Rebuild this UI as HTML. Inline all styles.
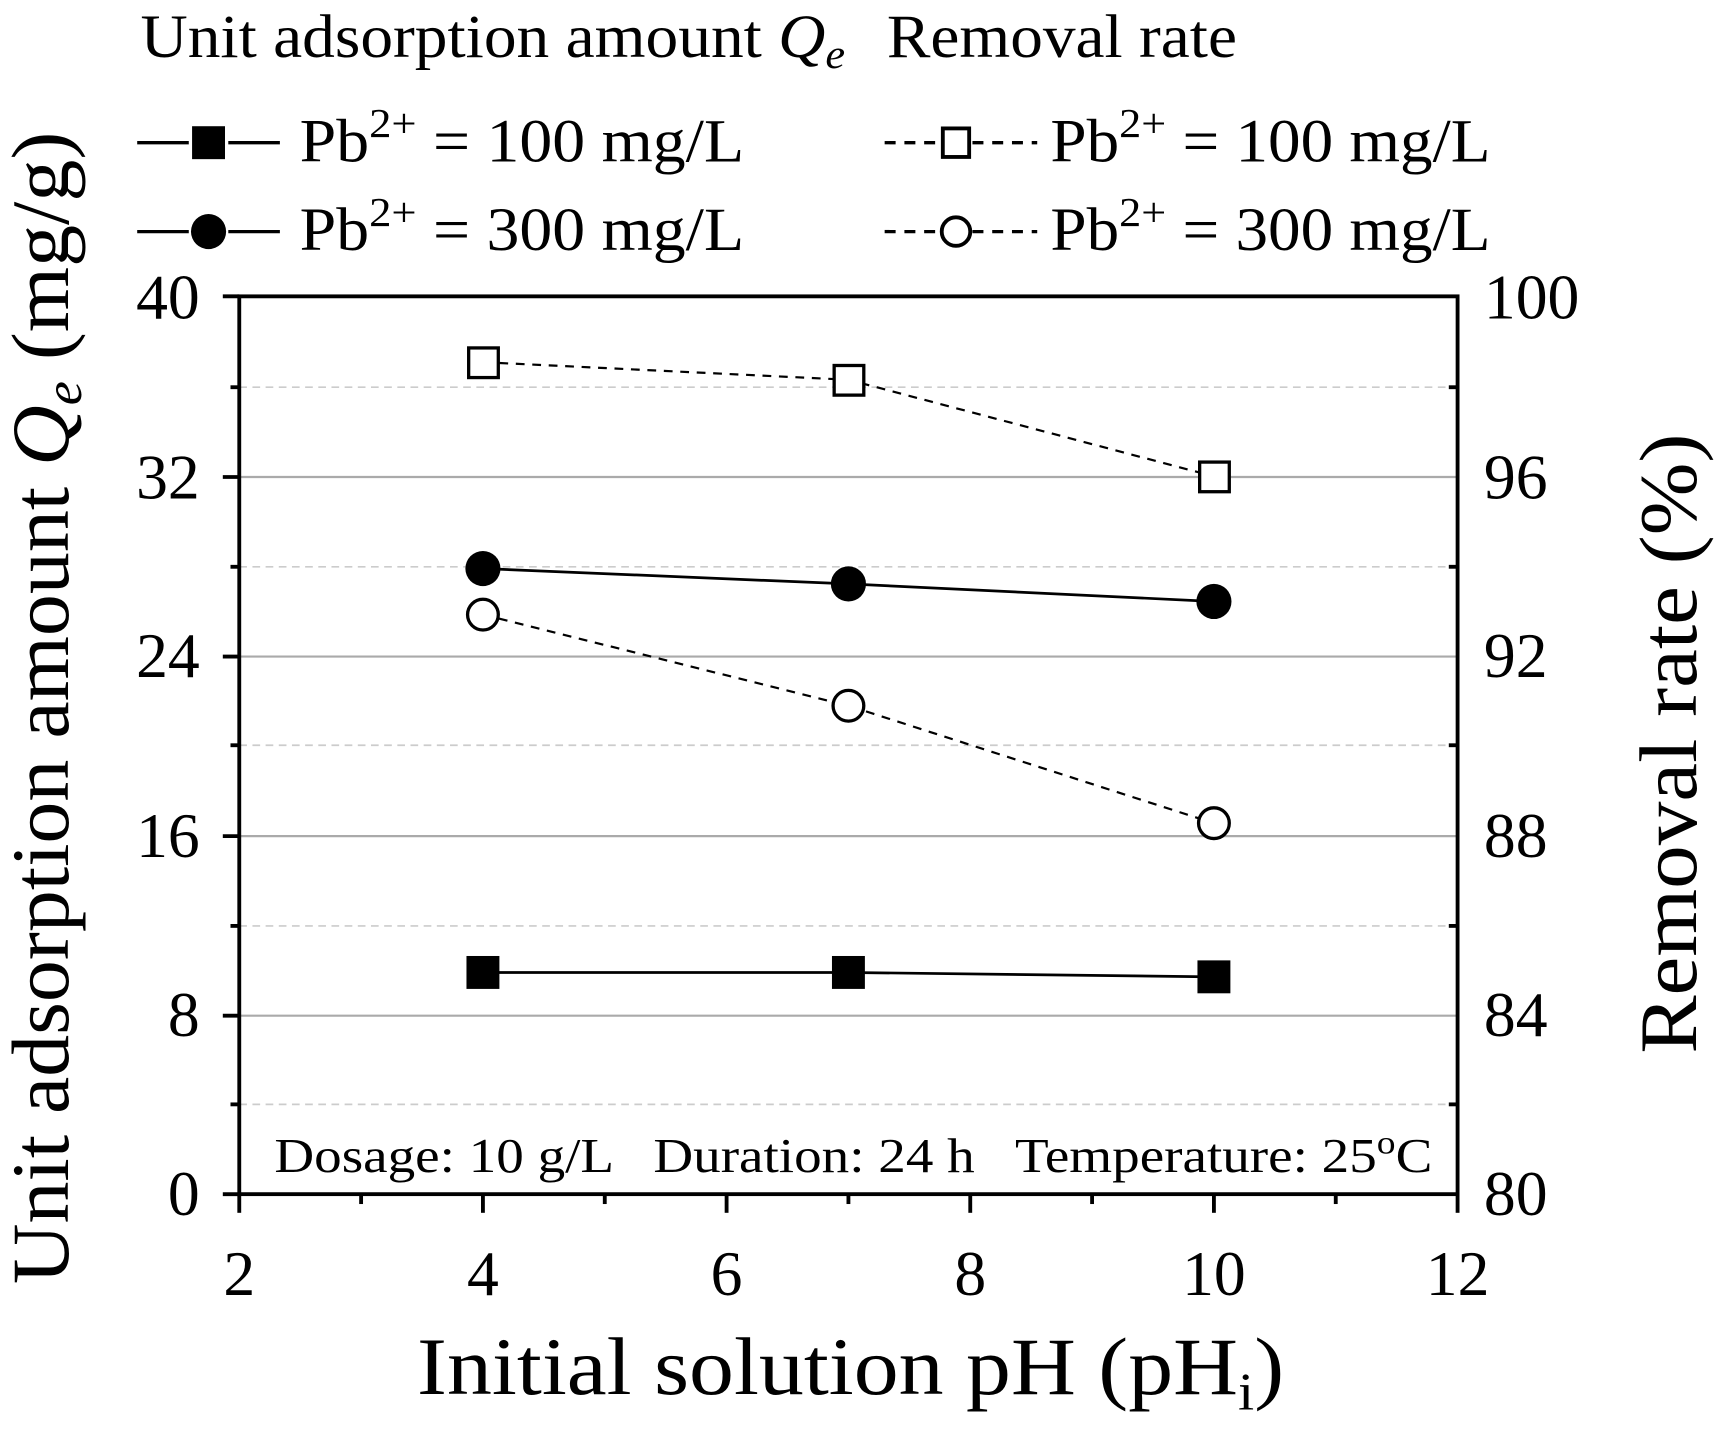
<!DOCTYPE html>
<html><head><style>
html,body{margin:0;padding:0;background:#fff;}
svg{display:block;}
text{font-family:"Liberation Serif",serif;fill:#000;}
</style></head><body>
<svg width="1721" height="1432" viewBox="0 0 1568 1304.7" preserveAspectRatio="none" xmlns="http://www.w3.org/2000/svg">
<!-- grid -->
<g stroke="#aaa" stroke-width="2">
<line x1="218" y1="925.4" x2="1328" y2="925.4"/>
<line x1="218" y1="761.8" x2="1328" y2="761.8"/>
<line x1="218" y1="598.2" x2="1328" y2="598.2"/>
<line x1="218" y1="434.6" x2="1328" y2="434.6"/>
</g>
<g stroke="#ccc" stroke-width="1.5" stroke-dasharray="7,5">
<line x1="218" y1="1006.2" x2="1328" y2="1006.2"/>
<line x1="218" y1="843.6" x2="1328" y2="843.6"/>
<line x1="218" y1="679" x2="1328" y2="679"/>
<line x1="218" y1="516.4" x2="1328" y2="516.4"/>
<line x1="218" y1="352.8" x2="1328" y2="352.8"/>
</g>
<!-- axes -->
<g stroke="#000" stroke-width="3.5" fill="none">
<rect x="218" y="270" width="1110" height="818"/>
<line x1="203" y1="270" x2="218" y2="270"/>
<line x1="203" y1="434.6" x2="218" y2="434.6"/>
<line x1="203" y1="598.2" x2="218" y2="598.2"/>
<line x1="203" y1="761.8" x2="218" y2="761.8"/>
<line x1="203" y1="925.4" x2="218" y2="925.4"/>
<line x1="203" y1="1088" x2="218" y2="1088"/>
<line x1="210" y1="352.8" x2="218" y2="352.8"/>
<line x1="210" y1="516.4" x2="218" y2="516.4"/>
<line x1="210" y1="679" x2="218" y2="679"/>
<line x1="210" y1="843.6" x2="218" y2="843.6"/>
<line x1="210" y1="1006.2" x2="218" y2="1006.2"/>
<line x1="1320" y1="352.8" x2="1328" y2="352.8"/>
<line x1="1320" y1="516.4" x2="1328" y2="516.4"/>
<line x1="1320" y1="679" x2="1328" y2="679"/>
<line x1="1320" y1="843.6" x2="1328" y2="843.6"/>
<line x1="1320" y1="1006.2" x2="1328" y2="1006.2"/>
<line x1="218" y1="1088" x2="218" y2="1105"/>
<line x1="440" y1="1088" x2="440" y2="1105"/>
<line x1="662" y1="1088" x2="662" y2="1105"/>
<line x1="884" y1="1088" x2="884" y2="1105"/>
<line x1="1106" y1="1088" x2="1106" y2="1105"/>
<line x1="1328" y1="1088" x2="1328" y2="1105"/>
<line x1="329" y1="1088" x2="329" y2="1097"/>
<line x1="551" y1="1088" x2="551" y2="1097"/>
<line x1="773" y1="1088" x2="773" y2="1097"/>
<line x1="995" y1="1088" x2="995" y2="1097"/>
<line x1="1217" y1="1088" x2="1217" y2="1097"/>
</g>
<!-- tick labels -->
<g font-size="58" text-anchor="end">
<text x="182" y="290">40</text><text x="182" y="454">32</text><text x="182" y="617">24</text>
<text x="182" y="781">16</text><text x="182" y="944">8</text><text x="182" y="1107">0</text>
</g>
<g font-size="58" text-anchor="start">
<text x="1352" y="290">100</text><text x="1352" y="454">96</text><text x="1352" y="617">92</text>
<text x="1352" y="781">88</text><text x="1352" y="944">84</text><text x="1352" y="1107">80</text>
</g>
<g font-size="58" text-anchor="middle">
<text x="218" y="1180">2</text><text x="440" y="1180">4</text><text x="662" y="1180">6</text>
<text x="884" y="1180">8</text><text x="1106" y="1180">10</text><text x="1328" y="1180">12</text>
</g>
<!-- titles -->
<text x="380" y="1270" font-size="74" textLength="790" lengthAdjust="spacingAndGlyphs">Initial solution  pH (pH<tspan font-size="48" dy="14">i</tspan><tspan dy="-14">)</tspan></text>
<text transform="translate(62,1170) rotate(-90)" font-size="74" textLength="1050" lengthAdjust="spacingAndGlyphs">Unit adsorption amount <tspan font-style="italic">Q<tspan font-size="48" dy="12">e</tspan></tspan><tspan dy="-12"> (mg/g)</tspan></text>
<text transform="translate(1545,960) rotate(-90)" font-size="74" textLength="565" lengthAdjust="spacingAndGlyphs">Removal rate (%)</text>
<!-- annotation -->
<text x="250" y="1068" font-size="44" xml:space="preserve" textLength="1055" lengthAdjust="spacingAndGlyphs">Dosage: 10 g/L   Duration: 24 h   Temperature: 25<tspan font-size="30" dy="-17">o</tspan><tspan dy="17">C</tspan></text>
<!-- series -->
<g stroke="#000" stroke-width="2.5" fill="none">
<polyline points="440,886 773,886 1106,890"/>
<polyline points="440,518 773,532 1106,548"/>
<polyline points="440,330 773,346 1106,434" stroke-dasharray="8,7" stroke-width="2"/>
<polyline points="440,560 773,643 1106,750" stroke-dasharray="8,7" stroke-width="2"/>
</g>
<g fill="#000">
<rect x="425" y="871" width="30" height="30"/><rect x="758" y="871" width="30" height="30"/><rect x="1091" y="875" width="30" height="30"/>
<circle cx="440" cy="518" r="16"/><circle cx="773" cy="532" r="16"/><circle cx="1106" cy="548" r="16"/>
</g>
<g fill="#fff" stroke="#000" stroke-width="3">
<rect x="427" y="317" width="27" height="27"/><rect x="760" y="333" width="27" height="27"/><rect x="1093" y="421" width="27" height="27"/>
<circle cx="440" cy="560" r="14"/><circle cx="773" cy="643" r="14"/><circle cx="1106" cy="750" r="14"/>
</g>
<!-- legend -->
<text x="128" y="52" font-size="56" textLength="642" lengthAdjust="spacingAndGlyphs">Unit adsorption amount <tspan font-style="italic">Q<tspan font-size="38" dy="10">e</tspan></tspan></text>
<text x="808" y="52" font-size="56" textLength="319" lengthAdjust="spacingAndGlyphs">Removal rate</text>
<g stroke="#000" stroke-width="3">
<line x1="125" y1="130" x2="172" y2="130"/><line x1="208" y1="130" x2="255" y2="130"/>
<line x1="125" y1="211" x2="172" y2="211"/><line x1="208" y1="211" x2="255" y2="211"/>
<g stroke-dasharray="10,8">
<line x1="806" y1="130" x2="856" y2="130"/><line x1="886" y1="130" x2="945" y2="130"/>
<line x1="806" y1="211" x2="856" y2="211"/><line x1="886" y1="211" x2="945" y2="211"/>
</g>
</g>
<rect x="175" y="115" width="30" height="30" fill="#000"/>
<circle cx="190" cy="211" r="16" fill="#000"/>
<rect x="859" y="117" width="24" height="26" fill="#fff" stroke="#000" stroke-width="3.5"/>
<circle cx="871" cy="211" r="13" fill="#fff" stroke="#000" stroke-width="3.5"/>
<g font-size="56">
<text x="273" y="147" textLength="405" lengthAdjust="spacingAndGlyphs">Pb<tspan font-size="38" dy="-22">2+</tspan><tspan dy="22"> = 100 mg/L</tspan></text>
<text x="273" y="228" textLength="405" lengthAdjust="spacingAndGlyphs">Pb<tspan font-size="38" dy="-22">2+</tspan><tspan dy="22"> = 300 mg/L</tspan></text>
<text x="957" y="147" textLength="401" lengthAdjust="spacingAndGlyphs">Pb<tspan font-size="38" dy="-22">2+</tspan><tspan dy="22"> = 100 mg/L</tspan></text>
<text x="957" y="228" textLength="401" lengthAdjust="spacingAndGlyphs">Pb<tspan font-size="38" dy="-22">2+</tspan><tspan dy="22"> = 300 mg/L</tspan></text>
</g>
</svg>
</body></html>
